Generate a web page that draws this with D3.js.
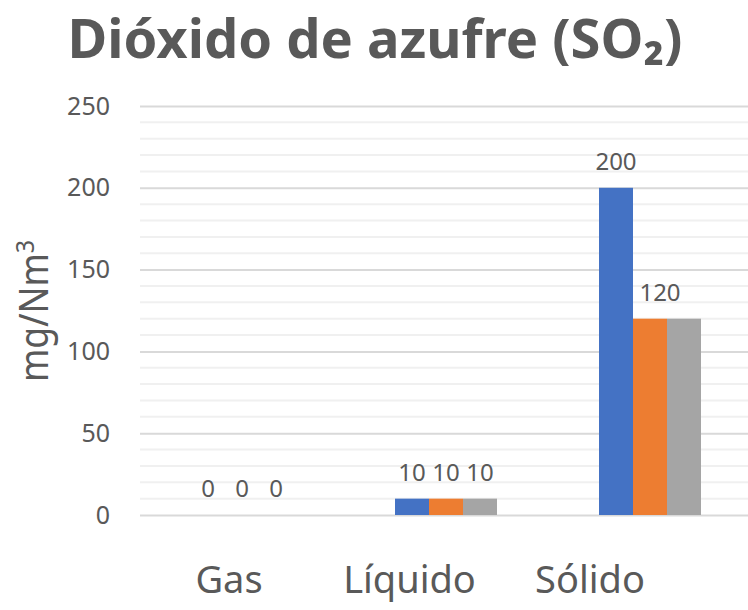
<!DOCTYPE html>
<html>
<head>
<meta charset="utf-8">
<script src="https://cdn.jsdelivr.net/npm/d3@7"></script>
<style>
	body { margin: 0; background: #fff; }
	text { font-family: "Noto Sans", "Open Sans", sans-serif; fill: #595959; }
</style>
</head>
<body>
<svg id="chart" width="748" height="610"></svg>
<script>
var categories = ['Gas', 'Líquido', 'Sólido'],
	series = ['s1', 's2', 's3'],
	values = {
		s1: [0, 10, 200],
		s2: [0, 10, 120],
		s3: [0, 10, 120]
	},
	// which data labels are visible (the last gray one is hidden in the original)
	showLabel = {
		s1: [true, true, true],
		s2: [true, true, true],
		s3: [true, true, false]
	},
	colors = ['#4472C4', '#ED7D31', '#A5A5A5'],
	yTicks = [0, 50, 100, 150, 200, 250],
	yMinor = d3.range(0, 251, 10),
	titleText = 'Dióxido de azufre (SO₂)';

var svg = d3.select('svg#chart'),
	margin = {top: 106, right: -4, bottom: 95, left: 140},
	width = +svg.attr('width') - margin.left - margin.right,
	height = +svg.attr('height') - margin.top - margin.bottom,
	g = svg.append('g').attr('transform', 'translate(' + margin.left + ',' + margin.top + ')');

var x = d3.scaleBand().domain(categories).range([0, width]),
	xs = d3.scaleBand().domain(series).range([0, x.bandwidth()]).paddingOuter(1.5),
	xl = d3.scalePoint().domain(categories).range([89, 450]), // category text sits left of the bands
	y = d3.scaleLinear().domain([0, 250]).range([height, 0]),
	z = d3.scaleOrdinal().domain(series).range(colors);

// squeeze a text horizontally to a target width (Calibri is narrower than Noto)
function fitWidth(sel, cx, cy, target, rotate) {
	var w = sel.node().getBBox().width;
	sel.attr('transform', 'translate(' + cx + ',' + cy + ')' + (rotate ? ' rotate(-90)' : '') + ' scale(' + (target / w) + ',1)');
}

// minor + major gridlines
g.append('g').selectAll('line')
	.data(yMinor.filter(d => d % 50 !== 0))
	.enter().append('line')
	.attr('x1', 0).attr('x2', width)
	.attr('y1', d => y(d)).attr('y2', d => y(d))
	.attr('stroke', '#f0f0f0')
	.attr('stroke-width', 2);

g.append('g')
	.call(d3.axisLeft(y).tickValues(yTicks).tickSize(-width).tickPadding(30))
	.call(a => a.select('.domain').remove())
	.call(a => a.selectAll('.tick line').attr('stroke', '#d9d9d9').attr('stroke-width', 2))
	.call(a => a.selectAll('.tick text')
		.style('font-size', '25px')
		.style('font-family', '"Noto Sans", sans-serif')
		.attr('fill', '#595959'));

// bars
var groups = g.selectAll('.cat')
	.data(categories)
	.enter().append('g')
	.attr('class', 'cat')
	.attr('transform', d => 'translate(' + x(d) + ',0)');

groups.selectAll('rect')
	.data((c, i) => series.map(s => ({s: s, v: values[s][i]})))
	.enter().append('rect')
	.attr('x', d => xs(d.s))
	.attr('width', xs.bandwidth())
	.attr('y', d => y(d.v))
	.attr('height', d => y(0) - y(d.v))
	.attr('fill', d => z(d.s));

groups.selectAll('text.lbl')
	.data((c, i) => series.map(s => ({s: s, v: values[s][i], show: showLabel[s][i], i: i})).filter(d => d.show))
	.enter().append('text')
	.attr('class', 'lbl')
	.attr('x', d => xs(d.s) + xs.bandwidth() / 2 + (d.i === 2 && d.s === 's2' ? 10 : 0))
	.attr('y', d => y(d.v) - 18)
	.attr('text-anchor', 'middle')
	.style('font-size', '24px')
	.text(d => d.v);

// category labels
g.append('g').selectAll('text')
	.data(categories)
	.enter().append('text')
	.attr('x', d => xl(d))
	.attr('y', height + 78)
	.attr('text-anchor', 'middle')
	.style('font-size', '38px')
	.text(d => d);

// y axis title
var yt = svg.append('text')
	.attr('text-anchor', 'middle')
	.style('font-size', '40px');
yt.append('tspan').text('mg/Nm');
yt.append('tspan').attr('dy', -14).style('font-size', '26px').text('3');
fitWidth(yt, 48, 311, 142, true);

// title
var title = svg.append('text')
	.attr('text-anchor', 'middle')
	.style('font-size', '54px')
	.style('font-weight', 'bold')
	.text(titleText);
fitWidth(title, 375, 58, 615, false);
</script>
</body>
</html>
